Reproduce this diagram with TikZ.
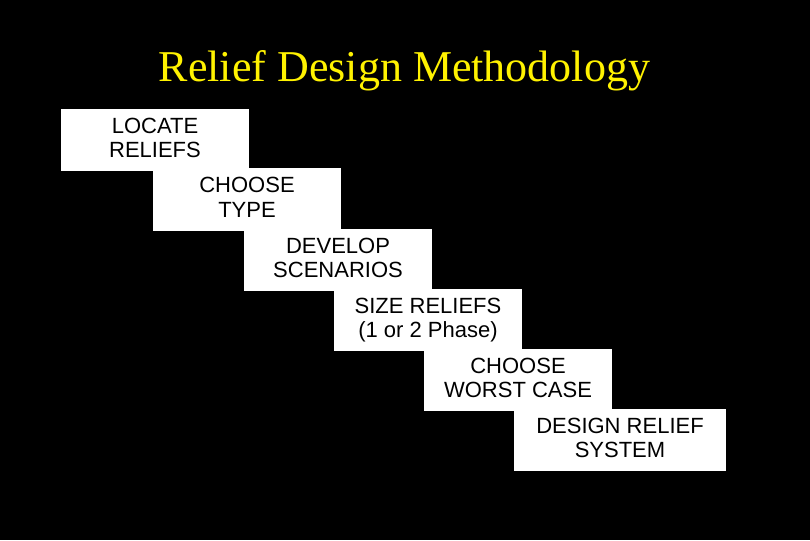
\documentclass[tikz,border=0pt]{standalone}
\usepackage{fontspec}
\setmainfont{Liberation Serif}
\setsansfont{Liberation Sans}
\usetikzlibrary{positioning}

\begin{document}
\begin{tikzpicture}[x=1pt, y=-1pt,
    stepbox/.style={fill=white, inner sep=0pt, minimum width=188pt, minimum height=62pt,
        align=center, font=\sffamily\fontsize{22}{24.5}\selectfont,
        execute at end node={\rule[-4.5pt]{0pt}{4.5pt}}}]
    % Background
    \fill[black] (0,0) rectangle (810,540);

    % Title
    \node[anchor=base, text=yellow, font=\fontsize{44}{50}\selectfont] (title) at (404.5,82) {Relief Design Methodology};

    % Staircase of steps
    \node[stepbox] (locate) at (155,140) {LOCATE\\RELIEFS};
    \node[stepbox] (type) at (247,199.5) {CHOOSE\\TYPE};
    \node[stepbox] (scen) at (338,260) {DEVELOP\\SCENARIOS};
    \node[stepbox] (size) at (428,320) {SIZE RELIEFS\\(1 or 2 Phase)};
    \node[stepbox] (worst) at (518,380) {CHOOSE\\WORST CASE};
    \node[stepbox, minimum width=212pt] (design) at (620,440) {DESIGN RELIEF\\SYSTEM};
\end{tikzpicture}
\end{document}
